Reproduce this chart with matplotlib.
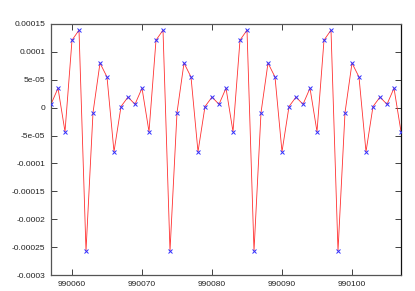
import numpy as np
import matplotlib.pyplot as plt
from matplotlib.ticker import FixedLocator, FixedFormatter

x_vals = list(range(990057, 990108))
y_vals = [
    0.6e-5, 3.5e-5, -4.3e-5, 12.1e-5, 13.9e-5, -25.7e-5, -0.9e-5, 8.0e-5, 5.5e-5, -7.9e-5, 0.2e-5, 1.9e-5,
    0.6e-5, 3.5e-5, -4.3e-5, 12.1e-5, 13.9e-5, -25.7e-5, -0.9e-5, 8.0e-5, 5.5e-5, -7.9e-5, 0.2e-5, 1.9e-5,
    0.6e-5, 3.5e-5, -4.3e-5, 12.1e-5, 13.9e-5, -25.7e-5, -0.9e-5, 8.0e-5, 5.5e-5, -7.9e-5, 0.2e-5, 1.9e-5,
    0.6e-5, 3.5e-5, -4.3e-5, 12.1e-5, 13.9e-5, -25.7e-5, -0.9e-5, 8.0e-5, 5.5e-5, -7.9e-5, 0.2e-5, 1.9e-5,
    0.6e-5, 3.5e-5, -4.3e-5,
]

x_ticks = [990060, 990070, 990080, 990090, 990100]
x_labels = ["990060", "990070", "990080", "990090", "990100"]
y_ticks = [0.00015, 0.0001, 5e-05, 0, -5e-05, -0.0001, -0.00015, -0.0002, -0.00025, -0.0003]
y_labels = ["0.00015", "0.0001", "5e-05", "0", "-5e-05", "-0.0001", "-0.00015", "-0.0002", "-0.00025", "-0.0003"]

plt.rcParams['font.family'] = ['Liberation Sans', 'DejaVu Sans']

fig = plt.figure(figsize=(4.15, 2.91), dpi=100)
ax = fig.add_axes([51/415, 16/291, 350/415, 251/291])

ax.plot(x_vals, y_vals, color='#ff3030', linewidth=0.6, zorder=2)
ax.plot(x_vals, y_vals, linestyle='none', marker='x', color='#3030ff',
        markersize=3.5, markeredgewidth=0.7, zorder=3, clip_on=True)

ax.set_xlim(990057, 990107)
ax.set_ylim(-0.0003, 0.00015)

ax.xaxis.set_major_locator(FixedLocator(x_ticks))
ax.xaxis.set_major_formatter(FixedFormatter(x_labels))
ax.yaxis.set_major_locator(FixedLocator(y_ticks))
ax.yaxis.set_major_formatter(FixedFormatter(y_labels))

ax.tick_params(direction='in', length=4, width=0.6, labelsize=6, colors='#222222',
               top=True, right=True, pad=4)
for s in ax.spines.values():
    s.set_color('#555555')
    s.set_linewidth(0.9)
ax.spines['right'].set_color('#111111')

fig.savefig("out.png", dpi=100)
